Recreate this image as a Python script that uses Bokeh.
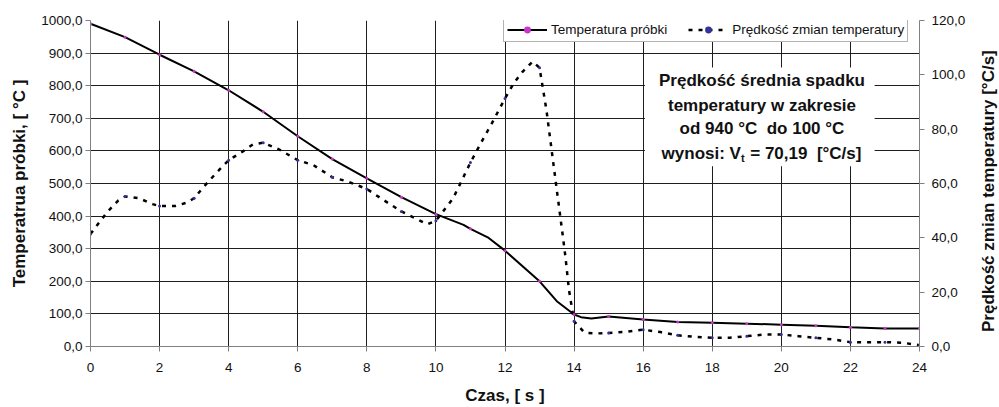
import math
from bokeh.plotting import figure
from bokeh.layouts import row
from bokeh.models import (Range1d, LinearAxis, SingleIntervalTicker, CustomJSTickFormatter,
                          Legend, LegendItem, Label, BoxAnnotation)
from bokeh.embed import file_html
from bokeh.resources import INLINE

# ---- data ----
temp_time = [0, 1, 2, 3, 4, 5, 6, 7, 8, 9, 10, 10.8, 11, 11.5, 12, 13, 13.5, 14, 14.2, 14.5,
             15, 16, 17, 18, 19, 20, 21, 22, 23, 24]
temp_vals = [990, 949, 895, 844, 786, 720, 645, 575, 516, 458, 406, 373, 361, 335, 294, 200, 139, 98, 90, 86,
             92, 83, 75.5, 73, 70, 67, 64, 59, 55, 55]

rate_time = [0, 0.25, 0.5, 0.8, 1, 1.4, 1.8, 2, 2.45, 2.8, 3, 3.3, 3.65, 4, 4.4, 4.7, 5, 5.45, 6, 6.45,
             7, 7.45, 8, 8.4, 9, 9.45, 9.75, 10, 10.5, 11, 11.4, 11.6, 12, 12.25, 12.5, 12.8, 13,
             13.2, 13.4, 13.5, 13.65, 13.75, 13.85, 14, 14.3, 14.65, 15, 15.5, 16, 16.5, 17, 17.5,
             18, 18.5, 19, 19.5, 20, 20.5, 21, 21.5, 22, 22.5, 23, 23.5, 24]
rate_vals = [41.4, 45.6, 49.7, 53.7, 55.2, 54.6, 52.4, 51.7, 51.7, 53.0, 54.6, 59.1, 64.0, 68.6, 71.7, 74.4, 75.0, 72.6, 68.6, 66.8,
             62.3, 60.7, 58.0, 54.6, 49.7, 46.9, 45.0, 46.3, 54.6, 67.7, 77.2, 81.7, 91.3, 96.8, 101.0, 104.9, 102.6,
             87.0, 67.4, 57.6, 43.0, 33.0, 21.0, 9.3, 5.1, 4.8, 5.0, 5.4, 6.2, 5.3, 4.1, 3.6,
             3.2, 3.2, 3.8, 4.4, 4.4, 3.8, 3.2, 2.6, 1.6, 1.6, 1.6, 1.4, 0.5]

x_label = "Czas, [ s ]"
y_label = "Temperatrua próbki, [ °C ]"
y2_label = "Prędkość zmian temperatury [°C/s]"
series_names = ["Temperatura próbki", "Prędkość zmian temperatury"]
note_lines = ["Prędkość średnia spadku", "temperatury w zakresie", "od 940 °C \u00a0do 100 °C"]
note_last = ["wynosi: V", "t", "= 70,19 \u00a0[°C/s]"]

FONT = "Liberation Sans"
TXT = "#111111"
MAIN_W = 968

p = figure(width=MAIN_W, height=407, x_range=Range1d(0, 24), y_range=Range1d(0, 1000),
           output_backend="svg", toolbar_location=None,
           min_border_left=90, min_border_right=MAIN_W - 920, min_border_top=20, min_border_bottom=60)
p.background_fill_color = "white"
p.border_fill_color = "white"
p.outline_line_color = None
p.extra_y_ranges = {"rate": Range1d(0, 120)}

fmt = CustomJSTickFormatter(code="return tick.toFixed(1).replace('.', ',');")

xt = SingleIntervalTicker(interval=2)
yt = SingleIntervalTicker(interval=100)
p.xaxis.ticker = xt
p.yaxis.ticker = yt
p.yaxis.formatter = fmt
p.xgrid.ticker = xt
p.ygrid.ticker = yt
for g in (p.xgrid, p.ygrid):
    g.grid_line_color = "#1e1e1e"
    g.grid_line_width = 1

left_ax = p.yaxis[0]
bottom_ax = p.xaxis[0]
bottom_ax.axis_label = x_label
left_ax.axis_label = y_label

ax2 = LinearAxis(y_range_name="rate", ticker=SingleIntervalTicker(interval=20), formatter=fmt)
p.add_layout(ax2, "right")

for ax in (bottom_ax, left_ax, ax2):
    ax.axis_line_color = "#808080"
    ax.major_tick_line_color = "#808080"
    ax.minor_tick_line_color = None
    ax.major_tick_in = 0
    ax.major_tick_out = 5
    ax.major_label_text_font = FONT
    ax.major_label_text_font_size = "13.5px"
    ax.major_label_text_color = TXT
    ax.axis_label_text_font = FONT
    ax.axis_label_text_font_size = "17px"
    ax.axis_label_text_font_style = "bold"
    ax.axis_label_text_color = TXT

bottom_ax.major_label_standoff = 11
bottom_ax.axis_label_standoff = 11
left_ax.major_label_standoff = 3
left_ax.axis_label_standoff = 9
ax2.major_label_standoff = 7

# lines
r_temp = p.line(temp_time, temp_vals, line_color="black", line_width=2)
r_rate = p.line(rate_time, rate_vals, line_color="black", line_width=2.5, line_dash="4 6",
                y_range_name="rate")

ti = [i for i, t in enumerate(temp_time) if float(t).is_integer()]
ri = [i for i, t in enumerate(rate_time) if float(t).is_integer()]
m_temp = p.scatter([temp_time[i] for i in ti], [temp_vals[i] for i in ti], size=3,
                   marker="circle", fill_color="#cc33cc", line_color=None)
m_rate = p.scatter([rate_time[i] for i in ri], [rate_vals[i] for i in ri], size=3,
                   marker="circle", fill_color="#333399", line_color=None, y_range_name="rate")

legend = Legend(items=[LegendItem(label=series_names[0], renderers=[r_temp, m_temp]),
                       LegendItem(label=series_names[1], renderers=[r_rate, m_rate])],
                location=(413, 304), orientation="horizontal",
                label_text_font=FONT, label_text_font_size="13.5px", label_text_color=TXT,
                glyph_width=40, glyph_height=17, label_height=17, label_standoff=4,
                spacing=21, padding=3, margin=0,
                border_line_color="#666666", border_line_width=1,
                background_fill_color="white", background_fill_alpha=1)
p.add_layout(legend)

# annotation box
p.add_layout(BoxAnnotation(left=16.05, right=22.7, bottom=553, top=856,
                           fill_color="white", fill_alpha=1, line_color=None))
ys = [816.5, 740, 668.8]
for txt, yv in zip(note_lines, ys):
    p.add_layout(Label(x=19.44, y=yv, text=txt, text_align="center", text_baseline="middle",
                       text_font=FONT, text_font_size="17px", text_font_style="bold",
                       text_color=TXT))
p.add_layout(Label(x=18.83, y=592.4, text=note_last[0], text_align="right", text_baseline="middle",
                   text_font=FONT, text_font_size="17px", text_font_style="bold", text_color=TXT))
p.add_layout(Label(x=18.83, y=579.5, text=note_last[1], text_align="left", text_baseline="middle",
                   text_font=FONT, text_font_size="11px", text_font_style="bold", text_color=TXT))
p.add_layout(Label(x=19.10, y=592.4, text=note_last[2], text_align="left", text_baseline="middle",
                   text_font=FONT, text_font_size="17px", text_font_style="bold", text_color=TXT))

# side panel holding the right axis title (reads bottom-to-top)
SIDE_W = 999 - MAIN_W
s = figure(width=SIDE_W, height=407, x_range=Range1d(0, SIDE_W), y_range=Range1d(0, 407),
           output_backend="svg", toolbar_location=None,
           min_border=0, min_border_left=0, min_border_right=0, min_border_top=0, min_border_bottom=0)
s.axis.visible = False
s.grid.visible = False
s.outline_line_color = None
s.background_fill_color = "white"
s.border_fill_color = "white"
s.add_layout(Label(x=988 - MAIN_W, y=194, text=y2_label, angle=math.pi / 2,
                   text_align="center", text_baseline="middle",
                   text_font=FONT, text_font_size="17px", text_font_style="bold", text_color=TXT))

out = row(p, s, spacing=0)
open("out.html", "w").write(file_html(out, INLINE))
